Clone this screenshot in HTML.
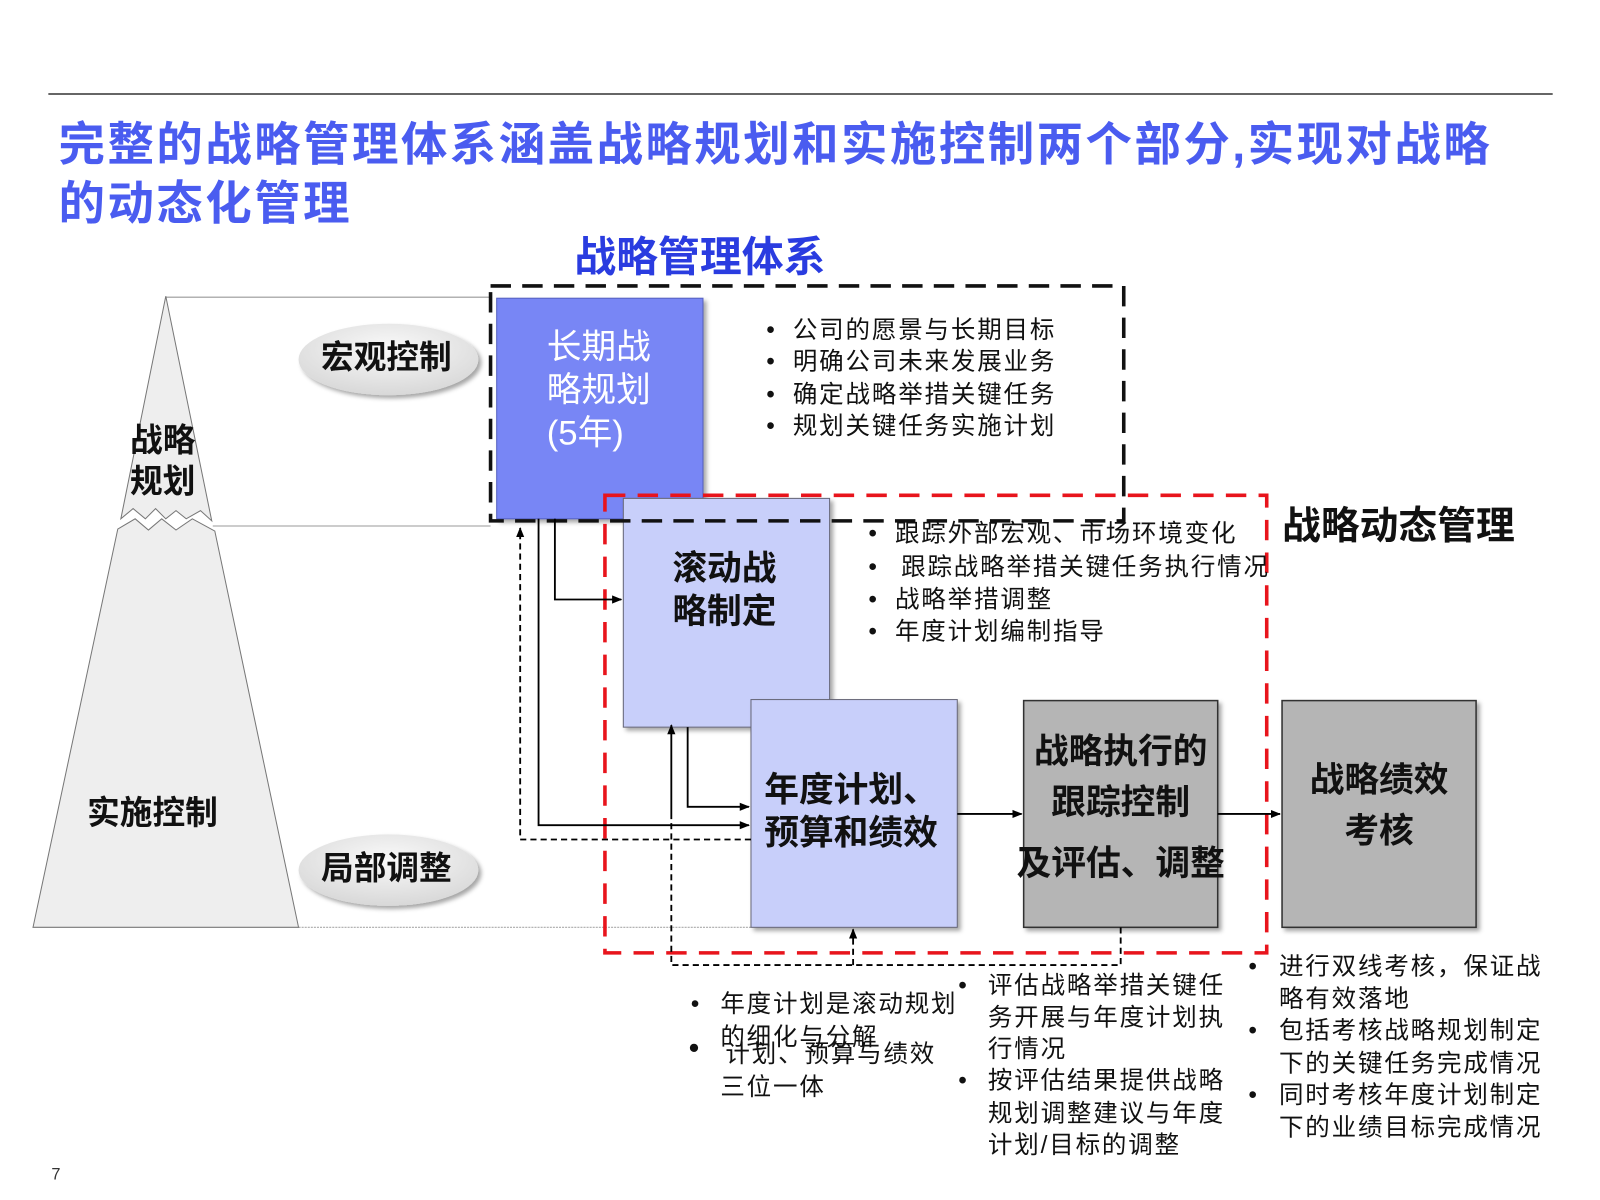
<!DOCTYPE html>
<html><head><meta charset="utf-8"><style>
html,body{margin:0;padding:0;background:#fff}
svg{display:block}
text{font-family:"Liberation Sans","Noto Sans CJK SC",sans-serif}
</style></head><body>
<svg width="1600" height="1200" viewBox="0 0 1566 1175" xmlns="http://www.w3.org/2000/svg">
<defs>
<marker id="ar" markerWidth="10" markerHeight="10" refX="9" refY="5" orient="auto" markerUnits="userSpaceOnUse"><path d="M0,1 L10,5 L0,9 Z" fill="#000"/></marker>
<filter id="sh" x="-10%" y="-10%" width="130%" height="130%"><feDropShadow dx="3" dy="3" stdDeviation="2" flood-color="#000" flood-opacity="0.35"/></filter>
<radialGradient id="eg" cx="50%" cy="35%" r="65%"><stop offset="0" stop-color="#fafafa"/><stop offset="1" stop-color="#d8d8d8"/></radialGradient>
</defs>
<line x1="47" y1="92" x2="1520" y2="92" stroke="#333" stroke-width="1.5"/>
<text x="57" y="157" font-size="45.5" font-weight="bold" fill="#4a5cf0" letter-spacing="2.4">完整的战略管理体系涵盖战略规划和实施控制两个部分<tspan font-family="Liberation Sans">,</tspan>实现对战略</text>
<text x="57" y="215" font-size="45.5" font-weight="bold" fill="#4a5cf0" letter-spacing="2.4">的动态化管理</text>
<text x="562" y="266" font-size="41" font-weight="bold" fill="#2a3ce0">战略管理体系</text>

<!-- pyramid -->
<line x1="162" y1="291" x2="480" y2="291" stroke="#999" stroke-width="1"/>
<line x1="208" y1="515" x2="480" y2="515" stroke="#999" stroke-width="1"/>
<line x1="292" y1="908" x2="735" y2="908" stroke="#aaa" stroke-width="1" stroke-dasharray="2 1"/>
<path d="M162,290 L118,508 L130,498 L142,508 L152,498 L162,508 L172,500 L182,508 L196,500 L207,510 Z" fill="#eee" stroke="#777" stroke-width="1"/>
<path d="M32,908 L115,518 L132,508 L145,519 L158,508 L172,519 L188,508 L210,520 L292,908 Z" fill="#eee" stroke="#777" stroke-width="1"/>
<text x="127" y="442" font-size="32" font-weight="bold" fill="#111">战略</text>
<text x="127" y="482" font-size="32" font-weight="bold" fill="#111">规划</text>
<text x="85" y="807" font-size="32" font-weight="bold" fill="#111">实施控制</text>

<ellipse cx="380" cy="352" rx="88" ry="35" fill="url(#eg)" filter="url(#sh)"/>
<text x="378" y="361" font-size="32" font-weight="bold" fill="#111" text-anchor="middle">宏观控制</text>
<ellipse cx="380" cy="852" rx="88" ry="35" fill="url(#eg)" filter="url(#sh)"/>
<text x="378" y="861" font-size="32" font-weight="bold" fill="#111" text-anchor="middle">局部调整</text>

<!-- boxes -->
<rect x="486" y="292" width="202" height="216" fill="#7886f5" stroke="#5560c0" stroke-width="1" filter="url(#sh)"/>
<text x="535" y="351" font-size="34" fill="#fff">长期战</text>
<text x="535" y="393" font-size="34" fill="#fff">略规划</text>
<text x="535" y="435" font-size="34" fill="#fff">(5年)</text>

<rect x="610" y="488" width="202" height="224" fill="#c8cffa" stroke="#667" stroke-width="1" filter="url(#sh)"/>
<text x="658" y="568" font-size="34" font-weight="bold" fill="#111">滚动战</text>
<text x="658" y="610" font-size="34" font-weight="bold" fill="#111">略制定</text>

<rect x="735" y="685" width="202" height="223" fill="#c8cffa" stroke="#667" stroke-width="1" filter="url(#sh)"/>
<text x="748" y="785" font-size="34" font-weight="bold" fill="#111">年度计划、</text>
<text x="748" y="827" font-size="34" font-weight="bold" fill="#111">预算和绩效</text>

<rect x="1002" y="686" width="190" height="222" fill="#b5b5b5" stroke="#333" stroke-width="1.5" filter="url(#sh)"/>
<text x="1097" y="747" font-size="34" font-weight="bold" fill="#111" text-anchor="middle">战略执行的</text>
<text x="1097" y="797" font-size="34" font-weight="bold" fill="#111" text-anchor="middle">跟踪控制</text>
<text x="1097" y="857" font-size="34" font-weight="bold" fill="#111" text-anchor="middle">及评估、调整</text>

<rect x="1255" y="686" width="190" height="222" fill="#b5b5b5" stroke="#333" stroke-width="1.5" filter="url(#sh)"/>
<text x="1350" y="775" font-size="34" font-weight="bold" fill="#111" text-anchor="middle">战略绩效</text>
<text x="1350" y="825" font-size="34" font-weight="bold" fill="#111" text-anchor="middle">考核</text>

<!-- dashed frames -->
<rect x="480" y="280" width="620" height="230" fill="none" stroke="#111" stroke-width="3.5" stroke-dasharray="20 11"/>
<rect x="592" y="485" width="648" height="448" fill="none" stroke="#e8141c" stroke-width="3.5" stroke-dasharray="20 12"/>

<!-- connectors -->
<g stroke="#000" stroke-width="1.8" fill="none">
<polyline points="543,508 543,587 608,587" marker-end="url(#ar)"/>
<polyline points="527,508 527,808 733,808" marker-end="url(#ar)"/>
<polyline points="673,712 673,790 733,790" marker-end="url(#ar)"/>
<line x1="937" y1="797" x2="1000" y2="797" marker-end="url(#ar)"/>
<line x1="1192" y1="797" x2="1253" y2="797" marker-end="url(#ar)"/>
<line x1="657" y1="800" x2="657" y2="710" marker-end="url(#ar)"/>
</g>
<g stroke="#000" stroke-width="1.8" fill="none" stroke-dasharray="6 4">
<polyline points="735,822 509,822 509,517" marker-end="url(#ar)"/>
<polyline points="1097,908 1097,945 657,945 657,800"/>
<polyline points="835,945 835,910" marker-end="url(#ar)"/>
</g>

<!-- bullets -->
<g font-size="24" fill="#111" letter-spacing="1.8">
<text x="750" y="331">•</text><text x="776" y="331">公司的愿景与长期目标</text>
<text x="750" y="362">•</text><text x="776" y="362">明确公司未来发展业务</text>
<text x="750" y="394">•</text><text x="776" y="394">确定战略举措关键任务</text>
<text x="750" y="425">•</text><text x="776" y="425">规划关键任务实施计划</text>

<text x="850" y="530">•</text><text x="876" y="530">跟踪外部宏观、市场环境变化</text>
<text x="850" y="563">•</text><text x="882" y="563">跟踪战略举措关键任务执行情况</text>
<text x="850" y="595">•</text><text x="876" y="595">战略举措调整</text>
<text x="850" y="626">•</text><text x="876" y="626">年度计划编制指导</text>

<text x="676" y="991">•</text><text x="705" y="991">年度计划是滚动规划</text>
<text x="705" y="1023">的细化与分解</text>
<text x="674" y="1036" font-size="30">•</text><text x="710" y="1040">计划、预算与绩效</text>
<text x="705" y="1072">三位一体</text>

<text x="938" y="973">•</text><text x="967" y="973">评估战略举措关键任</text>
<text x="967" y="1004">务开展与年度计划执</text>
<text x="967" y="1035">行情况</text>
<text x="938" y="1066">•</text><text x="967" y="1066">按评估结果提供战略</text>
<text x="967" y="1098">规划调整建议与年度</text>
<text x="967" y="1129">计划/目标的调整</text>

<text x="1222" y="954">•</text><text x="1252" y="954">进行双线考核，保证战</text>
<text x="1252" y="986">略有效落地</text>
<text x="1222" y="1017">•</text><text x="1252" y="1017">包括考核战略规划制定</text>
<text x="1252" y="1049">下的关键任务完成情况</text>
<text x="1222" y="1080">•</text><text x="1252" y="1080">同时考核年度计划制定</text>
<text x="1252" y="1112">下的业绩目标完成情况</text>
</g>
<text x="1255" y="528" font-size="38" font-weight="bold" fill="#111">战略动态管理</text>
<text x="50" y="1155" font-size="16" fill="#333">7</text>
</svg>
</body></html>
